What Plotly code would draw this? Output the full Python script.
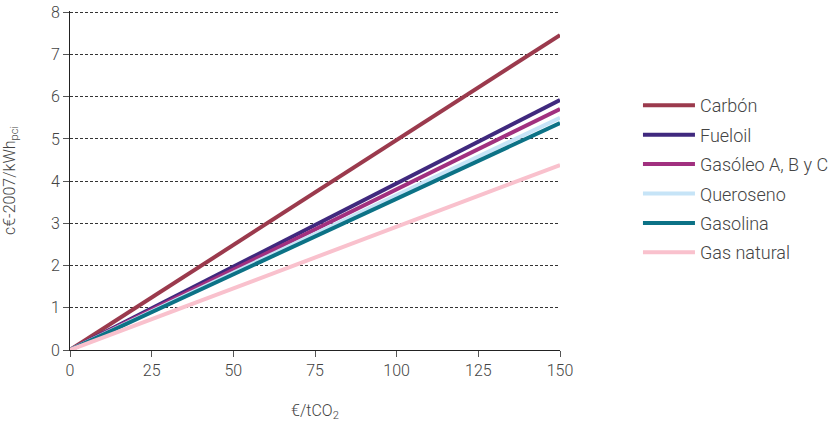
import plotly.graph_objects as go

x_vals = [0, 150]
series_names = ["Carbón", "Fueloil", "Gasóleo A, B y C", "Queroseno", "Gasolina", "Gas natural"]
end_values = [7.46, 5.92, 5.71, 5.50, 5.375, 4.38]
colors = ["#9b3a4d", "#40297e", "#a1307f", "#c6e4f7", "#0c7286", "#f9c1cd"]
x_ticks = [0, 25, 50, 75, 100, 125, 150]
y_ticks = [0, 1, 2, 3, 4, 5, 6, 7, 8]

font_family = "Roboto, Liberation Sans, Arial, sans-serif"
text_color = "#444444"

fig = go.Figure()
for name, v, c in zip(series_names, end_values, colors):
    fig.add_trace(go.Scatter(
        x=x_vals, y=[0, v], mode="lines", name=name,
        legendgroup=name,
        line=dict(color=c, width=4),
    ))

fig.update_layout(
    width=837, height=429,
    margin=dict(l=70, r=277, t=11, b=79),
    paper_bgcolor="white", plot_bgcolor="white",
    font=dict(family=font_family, size=16, color=text_color, weight=300),
    legend=dict(
        xref="container", yref="container",
        x=0.7622, y=0.797, xanchor="left", yanchor="top",
        font=dict(size=18, color=text_color, weight=300),
        tracegroupgap=3,
        itemwidth=52,
        bgcolor="rgba(0,0,0,0)",
    ),
    xaxis=dict(
        range=[0, 150], tickvals=x_ticks,
        showgrid=False, zeroline=False, automargin=False,
        showline=True, linecolor="#222", linewidth=1,
        ticks="outside", ticklen=6, tickcolor="#555", tickwidth=1,
        title=dict(text="€/tCO<sub>2</sub>", font=dict(size=16, color=text_color, weight=300), standoff=25),
    ),
    yaxis=dict(
        range=[0, 8.03], tickvals=y_ticks,
        showgrid=True, gridcolor="#333", griddash="3px,2px", gridwidth=1,
        zeroline=False, automargin=False,
        showline=True, linecolor="#222", linewidth=1,
        ticks="outside", ticklen=6, tickcolor="#555", tickwidth=1,
        title=dict(text="c€-2007/kWh<sub>pci</sub>", font=dict(size=16, color=text_color, weight=300), standoff=32),
    ),
)

fig.write_html(
    "out.html",
    config={"displayModeBar": False},
    post_script="document.body.style.margin='0';document.body.style.padding='0';",
)
